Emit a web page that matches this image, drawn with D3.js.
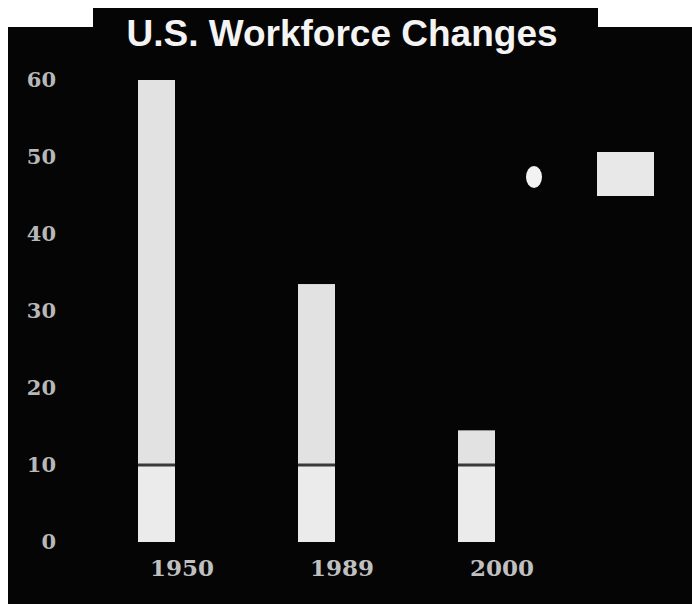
<!DOCTYPE html>
<html><head><meta charset="utf-8">
<script src="https://cdn.jsdelivr.net/npm/d3@7"></script>
<style>html,body{margin:0;padding:0;background:#fff;}svg{display:block;}</style>
</head><body>
<script>
const years = ["1950", "1989", "2000"];
const lowerValues = [10, 10, 10];
const totalValues = [60, 33.5, 14.5];
const yTicks = [0, 10, 20, 30, 40, 50, 60];
const titleText = "U.S. Workforce Changes";

const W = 692, H = 604;
const svg = d3.select("body").append("svg").attr("width", W).attr("height", H);

// backgrounds
svg.append("rect").attr("x", 8).attr("y", 27).attr("width", W - 8).attr("height", H - 27).attr("fill", "#050505");
svg.append("rect").attr("x", 93).attr("y", 8).attr("width", 505).attr("height", 44).attr("fill", "#050505");
svg.append("text").attr("x", 342).attr("y", 46).attr("text-anchor", "middle")
  .attr("font-family", "Liberation Sans, Arial, sans-serif").attr("font-weight", "bold")
  .attr("font-size", 37).attr("fill", "#f4f4f4").text(titleText);

const y = d3.scaleLinear().domain([0, 60]).range([542, 80]);
const x = d3.scaleBand().domain(years).range([102, 582]);

// y axis labels
const yAxis = d3.axisLeft(y).tickValues(yTicks).tickSize(0).tickPadding(0);
const gy = svg.append("g").attr("transform", "translate(56,0)").call(yAxis);
gy.select(".domain").remove();
gy.selectAll("text").attr("font-family", "DejaVu Serif, serif").attr("font-weight", "bold")
  .attr("font-size", 21).attr("fill", "#b8b8b8");

// x axis labels
const xAxis = d3.axisBottom(x).tickSize(0).tickPadding(0);
const gx = svg.append("g").attr("transform", "translate(0,560)").call(xAxis);
gx.select(".domain").remove();
gx.selectAll("text").attr("font-family", "DejaVu Serif, serif").attr("font-weight", "bold")
  .attr("font-size", 23).attr("fill", "#c0c0c0");

const barW = 37, off = -44;
const data = years.map((yr, i) => ({ yr, lower: lowerValues[i], total: totalValues[i] }));
const bars = svg.append("g");
bars.selectAll("rect.up").data(data).join("rect").attr("class", "up")
  .attr("x", d => x(d.yr) + x.bandwidth() / 2 + off).attr("width", barW)
  .attr("y", d => y(d.total)).attr("height", d => y(d.lower) - y(d.total))
  .attr("fill", "#e2e2e2");
bars.selectAll("rect.low").data(data).join("rect").attr("class", "low")
  .attr("x", d => x(d.yr) + x.bandwidth() / 2 + off).attr("width", barW)
  .attr("y", d => y(d.lower)).attr("height", d => y(0) - y(d.lower))
  .attr("fill", "#ebebeb");
bars.selectAll("line.sep").data(data).join("line").attr("class", "sep")
  .attr("x1", d => x(d.yr) + x.bandwidth() / 2 + off).attr("x2", d => x(d.yr) + x.bandwidth() / 2 + off + barW)
  .attr("y1", d => y(d.lower)).attr("y2", d => y(d.lower))
  .attr("stroke", "#3a3a3a").attr("stroke-width", 3);

// legend
const lg = svg.append("g").attr("transform", "translate(597,152)");
lg.append("rect").attr("width", 57).attr("height", 44).attr("fill", "#e8e8e8");
lg.append("ellipse").attr("cx", -63).attr("cy", 25).attr("rx", 8).attr("ry", 11).attr("fill", "#f2f2f2");
</script>
</body></html>
